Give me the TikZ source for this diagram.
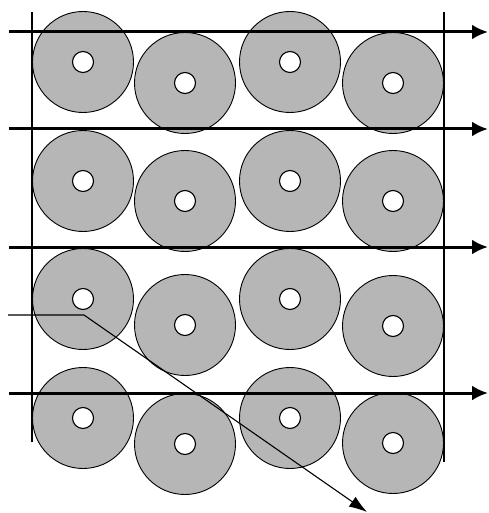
\documentclass[tikz,border=0pt]{standalone}
\usetikzlibrary{arrows.meta}
\begin{document}
\begin{tikzpicture}[x=1pt,y=-1pt,
  disc/.style={fill=gray!50!white!95!black, draw=black, line width=0.9pt},
  hole/.style={fill=white, draw=black, line width=1.1pt},
  flow/.style={line width=3pt, -{Latex[length=16pt,width=15pt]}},
  wall/.style={line width=1.1pt},
  path1/.style={line width=1.1pt},
  ]
\useasboundingbox (0,0) rectangle (488,513);
% discs
\foreach \x/\y in {83/62,185/83,290/62,393/83,
                   83/181,185/201,290/181,393/201,
                   83/299,185/325,290/299,393/326,
                   83/418,185/444,290/418,393/443}{
  \filldraw[disc] (\x,\y) circle (50.5);
}
\foreach \x/\y in {83/62,185/83,290/62,393/83,
                   83/181,185/201,290/181,393/201,
                   83/299,185/325,290/299,393/326,
                   83/418,185/444,290/418,393/443}{
  \filldraw[hole] (\x,\y) circle (10.5);
}
% walls
\coordinate (wl1) at (32,12); \coordinate (wl2) at (32,442);
\coordinate (wr1) at (444,12); \coordinate (wr2) at (444,462);
\draw[wall] (wl1) -- (wl2);
\draw[wall] (wr1) -- (wr2);
% flow arrows
\foreach \y/\n in {32/a,129/b,247/c,393/d}{
  \coordinate (s\n) at (9,\y);
  \coordinate (e\n) at (488,\y);
  \draw[flow] (s\n) -- (e\n);
}
% particle path
\coordinate (p0) at (8,315);
\coordinate (p1) at (84,315);
\coordinate (p2) at (367,512);
\draw[path1, -{Latex[length=18pt,width=12pt]}] (p0) -- (p1) -- (p2);
\end{tikzpicture}
\end{document}
